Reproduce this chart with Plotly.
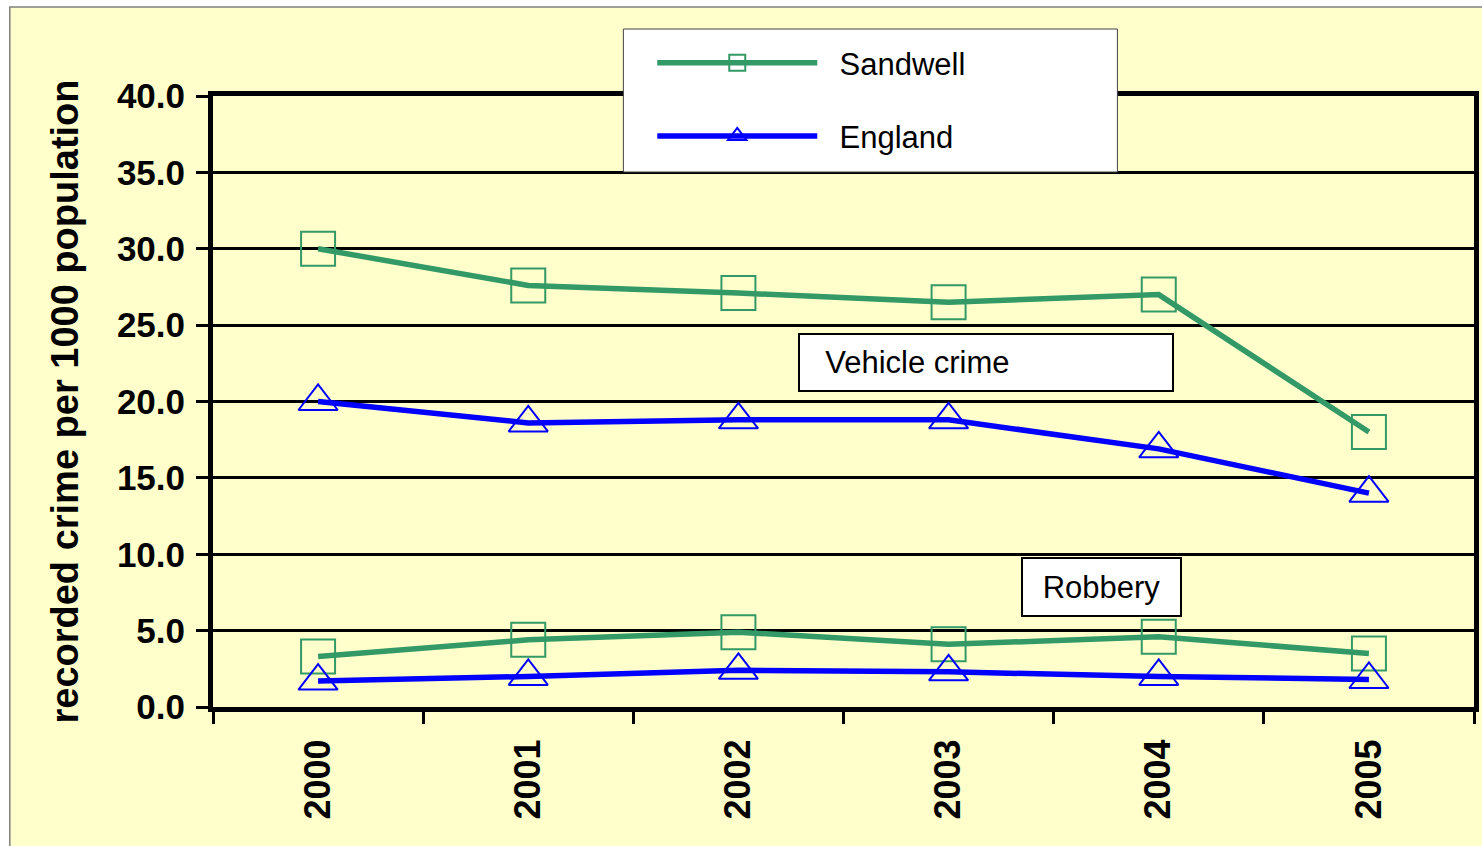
import plotly.graph_objects as go

YEARS = ["2000", "2001", "2002", "2003", "2004", "2005"]

SANDWELL_VEHICLE = [30.0, 27.6, 27.1, 26.5, 27.0, 18.0]
ENGLAND_VEHICLE = [20.0, 18.6, 18.8, 18.8, 16.9, 14.0]
SANDWELL_ROBBERY = [3.3, 4.4, 4.9, 4.1, 4.6, 3.5]
ENGLAND_ROBBERY = [1.7, 2.0, 2.4, 2.3, 2.0, 1.8]

GREEN = "#339966"
BLUE = "#0000FF"
BG = "#FFFFCC"
FONT = "Liberation Sans, Arial, sans-serif"
PAD = "\u00a0\u00a0"

W, H = 1482, 846
L, R, T, B = 213, 3, 96, 139
PW, PH = W - L - R, H - T - B


def px_x(p):
    return (p - L) / PW


def px_y(p):
    return (H - B - p) / PH


fig = go.Figure()


def add_series(values, name, color, symbol, size, show):
    fig.add_trace(go.Scatter(
        x=YEARS, y=values, name=PAD + name, mode="lines+markers",
        line=dict(color=color, width=5.5),
        marker=dict(symbol=symbol, size=size, color=color, line=dict(width=2, color=color)),
        legendgroup=name, showlegend=show,
        hovertemplate=name + " %{x}: %{y:.1f}<extra></extra>",
    ))


add_series(SANDWELL_VEHICLE, "Sandwell", GREEN, "square-open", 34, True)
add_series(ENGLAND_VEHICLE, "England", BLUE, "triangle-up-open", 34, True)
add_series(SANDWELL_ROBBERY, "Sandwell", GREEN, "square-open", 34, False)
add_series(ENGLAND_ROBBERY, "England", BLUE, "triangle-up-open", 34, False)

# outer chart frame and legend box
fig.add_shape(type="rect", xref="paper", yref="paper", layer="below",
              x0=px_x(9), x1=px_x(W + 10), y0=px_y(H + 10), y1=px_y(7),
              fillcolor=BG, line=dict(color="#808080", width=1.5))
fig.add_shape(type="rect", xref="paper", yref="paper", layer="above",
              x0=px_x(625), x1=px_x(1121), y0=px_y(172), y1=px_y(29),
              fillcolor="white", line=dict(color="#404040", width=1))

fig.add_annotation(text="&nbsp;&nbsp;Vehicle crime", xref="paper", yref="paper",
                   x=px_x(989), y=px_y(362.5), xanchor="center", yanchor="middle",
                   showarrow=False, width=356, height=39, align="left", borderpad=8,
                   bgcolor="white", bordercolor="black", borderwidth=2,
                   font=dict(family=FONT, size=31, color="black"))
fig.add_annotation(text="Robbery", xref="paper", yref="paper",
                   x=px_x(1105.5), y=px_y(587), xanchor="center", yanchor="middle",
                   showarrow=False, width=141, height=40, align="center", borderpad=8,
                   bgcolor="white", bordercolor="black", borderwidth=2,
                   font=dict(family=FONT, size=31, color="black"))

fig.update_layout(
    width=W, height=H,
    margin=dict(l=L, r=R, t=T, b=B),
    paper_bgcolor="white",
    plot_bgcolor=BG,
    font=dict(family=FONT, color="black"),
    legend=dict(
        x=px_x(654), y=px_y(36), xanchor="left", yanchor="top",
        bgcolor="rgba(0,0,0,0)", borderwidth=0,
        font=dict(family=FONT, size=31, color="black"),
        itemwidth=160, tracegroupgap=30,
    ),
)
fig.update_xaxes(
    type="category", range=[-0.5, 5.5], showgrid=False, tickson="boundaries",
    ticks="outside", ticklen=12, tickwidth=3, tickcolor="black",
    showline=True, linewidth=5, linecolor="black", mirror=True,
    tickangle=-90, ticklabelstandoff=13,
    tickfont=dict(family=FONT, size=36, color="black", weight="bold"),
)
fig.update_yaxes(
    range=[0, 40], dtick=5, tickformat=".1f",
    showgrid=True, gridcolor="black", gridwidth=3, zeroline=False,
    ticks="outside", ticklen=12, tickwidth=3, tickcolor="black",
    showline=True, linewidth=5, linecolor="black", mirror=True,
    ticklabelstandoff=4,
    tickfont=dict(family=FONT, size=35, color="black", weight="bold"),
    title=dict(text="recorded crime per 1000 population", standoff=28,
               font=dict(family=FONT, size=38, color="black", weight="bold")),
)

fig.write_html("out.html", config={"displayModeBar": False},
               post_script="document.body.style.margin='0';")
